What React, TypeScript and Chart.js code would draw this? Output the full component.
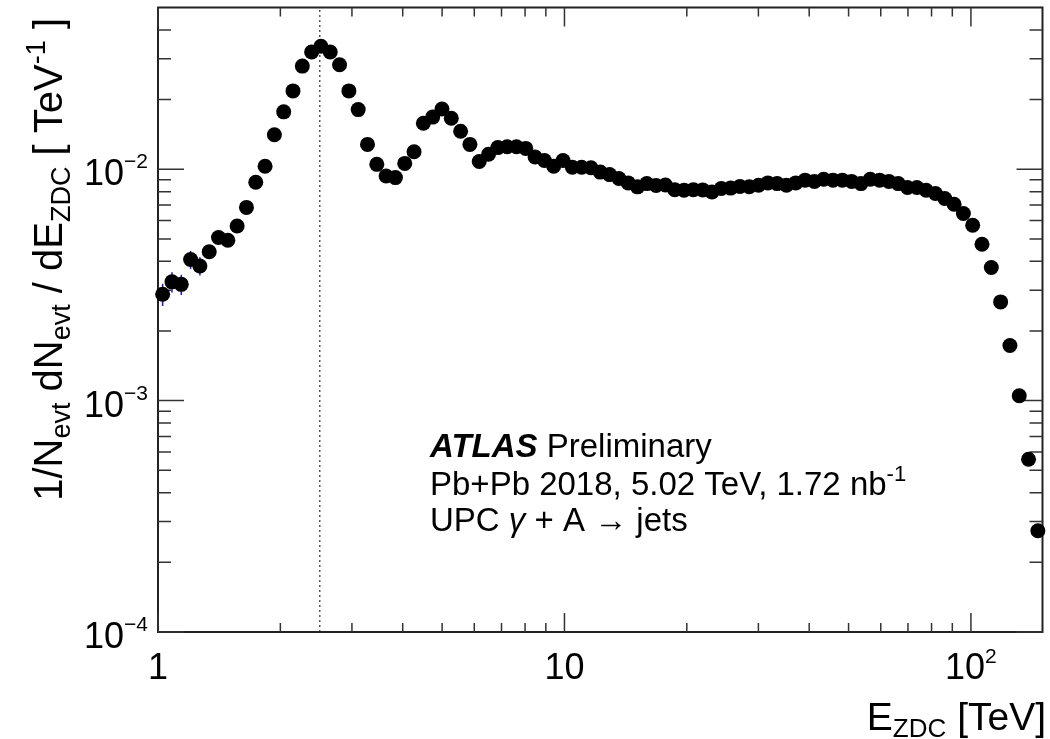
import React, { useEffect, useRef } from "react";
import { Chart, registerables } from "chart.js";

Chart.register(...registerables);

// Bin centres of E_ZDC [TeV]
const energyTeV = [
  1.0267, 1.0823, 1.141, 1.2028, 1.2679, 1.3366, 1.409, 1.4853, 1.5657, 1.6505,
  1.7399, 1.8341, 1.9335, 2.0382, 2.1486, 2.265, 2.3876, 2.5169, 2.6533, 2.797,
  2.9485, 3.1082, 3.2765, 3.454, 3.6411, 3.8383, 4.0461, 4.2653, 4.4963, 4.7398,
  4.9965, 5.2671, 5.5524, 5.8531, 6.1701, 6.5043, 6.8566, 7.2279, 7.6194, 8.0321,
  8.4671, 8.9257, 9.4091, 9.9187, 10.456, 11.022, 11.619, 12.248, 12.912, 13.611,
  14.348, 15.125, 15.944, 16.808, 17.718, 18.678, 19.69, 20.756, 21.88, 23.065,
  24.314, 25.631, 27.019, 28.482, 30.025, 31.651, 33.365, 35.172, 37.077, 39.085,
  41.202, 43.434, 45.786, 48.266, 50.88, 53.635, 56.54, 59.603, 62.831, 66.234,
  69.821, 73.602, 77.589, 81.791, 86.221, 90.89, 95.813, 101.0, 106.47, 112.24,
  118.32, 124.73, 131.48, 138.6, 146.11,
];

// 1/N_evt dN_evt/dE_ZDC [TeV^-1]
const dNdE = [
  2.88e-3, 3.26e-3, 3.18e-3, 4.07e-3, 3.82e-3, 4.4e-3, 5.07e-3, 4.93e-3, 5.68e-3, 6.84e-3,
  8.79e-3, 1.03e-2, 1.41e-2, 1.77e-2, 2.18e-2, 2.79e-2, 3.21e-2, 3.4e-2, 3.21e-2, 2.83e-2,
  2.18e-2, 1.81e-2, 1.28e-2, 1.05e-2, 9.35e-3, 9.2e-3, 1.06e-2, 1.19e-2, 1.58e-2, 1.68e-2,
  1.82e-2, 1.66e-2, 1.46e-2, 1.28e-2, 1.08e-2, 1.16e-2, 1.24e-2, 1.25e-2, 1.25e-2, 1.23e-2,
  1.13e-2, 1.09e-2, 1.03e-2, 1.09e-2, 1.02e-2, 1.02e-2, 1.015e-2, 9.72e-3, 9.48e-3, 9.12e-3,
  8.73e-3, 8.39e-3, 8.67e-3, 8.51e-3, 8.55e-3, 8.16e-3, 8.11e-3, 8.16e-3, 8.14e-3, 7.98e-3,
  8.26e-3, 8.29e-3, 8.43e-3, 8.4e-3, 8.53e-3, 8.73e-3, 8.67e-3, 8.53e-3, 8.73e-3, 8.97e-3,
  8.86e-3, 9.05e-3, 8.97e-3, 8.97e-3, 8.86e-3, 8.67e-3, 9.05e-3, 8.97e-3, 8.86e-3, 8.67e-3,
  8.34e-3, 8.34e-3, 8.11e-3, 7.85e-3, 7.47e-3, 7.06e-3, 6.44e-3, 5.73e-3, 4.74e-3, 3.76e-3,
  2.67e-3, 1.73e-3, 1.05e-3, 5.58e-4, 2.74e-4,
];

// relative statistical errors visible on the first bins
const relErr = [0.11, 0.1, 0.1, 0.09, 0.09];

const xRange = [1, 150];
const yRange = [1e-4, 0.05];
const markerLineX = 2.5;

const xMajorTicks = [1, 10, 100];
const xMinorTicks = [2, 3, 4, 5, 6, 7, 8, 9, 20, 30, 40, 50, 60, 70, 80, 90];
const xTickBase = ["1", "10", "10"];
const xTickExp = ["", "", "2"];

const yMajorTicks = [1e-4, 1e-3, 1e-2];
const yMinorTicks = [
  2e-4, 3e-4, 4e-4, 5e-4, 6e-4, 7e-4, 8e-4, 9e-4,
  2e-3, 3e-3, 4e-3, 5e-3, 6e-3, 7e-3, 8e-3, 9e-3,
  2e-2, 3e-2, 4e-2,
];
const yTickBase = ["10", "10", "10"];
const yTickExp = ["\u22124", "\u22123", "\u22122"];

const FONT = "'Liberation Sans', Arial, Helvetica, sans-serif";

type Seg = { t: string; size: number; style?: string; dy?: number };

function drawRich(
  ctx: CanvasRenderingContext2D,
  segs: Seg[],
  x: number,
  y: number,
  align: "left" | "right" | "center"
) {
  let w = 0;
  const widths: number[] = [];
  for (const s of segs) {
    ctx.font = `${s.style || ""} ${s.size}px ${FONT}`;
    const m = ctx.measureText(s.t).width;
    widths.push(m);
    w += m;
  }
  let cx = align === "left" ? x : align === "right" ? x - w : x - w / 2;
  ctx.textAlign = "left";
  ctx.textBaseline = "alphabetic";
  segs.forEach((s, i) => {
    ctx.font = `${s.style || ""} ${s.size}px ${FONT}`;
    ctx.fillText(s.t, cx, y + (s.dy || 0));
    cx += widths[i];
  });
}

export default function App() {
  const ref = useRef<HTMLCanvasElement>(null);

  useEffect(() => {
    const canvas = ref.current;
    if (!canvas) return;
    const points = energyTeV.map((x, i) => ({ x, y: dNdE[i] }));

    const rootStyle = {
      id: "rootStyle",
      beforeDatasetsDraw(chart: any) {
        const ctx: CanvasRenderingContext2D = chart.ctx;
        const xs = chart.scales.x;
        const ys = chart.scales.y;
        const { left, right, top, bottom } = chart.chartArea;
        ctx.save();

        // dotted vertical line
        const lx = xs.getPixelForValue(markerLineX);
        ctx.strokeStyle = "#555";
        ctx.lineWidth = 1.5;
        ctx.setLineDash([2, 3]);
        ctx.beginPath();
        ctx.moveTo(lx, bottom);
        ctx.lineTo(lx, top);
        ctx.stroke();
        ctx.setLineDash([]);

        // error bars
        ctx.strokeStyle = "#1a1aa8";
        ctx.lineWidth = 1.5;
        relErr.forEach((e, i) => {
          const px = xs.getPixelForValue(energyTeV[i]);
          const y1 = ys.getPixelForValue(dNdE[i] * (1 - e));
          const y2 = ys.getPixelForValue(dNdE[i] * (1 + e));
          ctx.beginPath();
          ctx.moveTo(px, y1);
          ctx.lineTo(px, y2);
          ctx.stroke();
        });

        // frame
        ctx.strokeStyle = "#222";
        ctx.lineWidth = 2;
        ctx.strokeRect(left, top, right - left, bottom - top);

        // ticks
        ctx.lineWidth = 1.5;
        ctx.strokeStyle = "#333";
        const xt = (v: number, len: number) => {
          const p = xs.getPixelForValue(v);
          ctx.beginPath();
          ctx.moveTo(p, bottom);
          ctx.lineTo(p, bottom - len);
          ctx.moveTo(p, top);
          ctx.lineTo(p, top + len);
          ctx.stroke();
        };
        xMajorTicks.forEach((v) => xt(v, 19));
        xMinorTicks.forEach((v) => xt(v, 9));
        const yt = (v: number, len: number) => {
          const p = ys.getPixelForValue(v);
          ctx.beginPath();
          ctx.moveTo(left, p);
          ctx.lineTo(left + len, p);
          ctx.moveTo(right, p);
          ctx.lineTo(right - len, p);
          ctx.stroke();
        };
        yMajorTicks.forEach((v) => yt(v, 26));
        yMinorTicks.forEach((v) => yt(v, 13));

        // tick labels
        ctx.fillStyle = "#000";
        xMajorTicks.forEach((v, i) => {
          const p = xs.getPixelForValue(v);
          const segs: Seg[] = [{ t: xTickBase[i], size: 36 }];
          if (xTickExp[i]) segs.push({ t: xTickExp[i], size: 21, dy: -16 });
          drawRich(ctx, segs, p, 679, "center");
        });
        yMajorTicks.forEach((v, i) => {
          const p = ys.getPixelForValue(v);
          drawRich(
            ctx,
            [
              { t: yTickBase[i], size: 36 },
              { t: yTickExp[i], size: 21, dy: -17 },
            ],
            148,
            p + 16,
            "right"
          );
        });

        // x title
        drawRich(
          ctx,
          [
            { t: "E", size: 39 },
            { t: "ZDC", size: 26, dy: 7 },
            { t: " [TeV]", size: 39 },
          ],
          1046,
          730,
          "right"
        );

        // y title (rotated)
        ctx.save();
        ctx.translate(62, 18);
        ctx.rotate(-Math.PI / 2);
        drawRich(
          ctx,
          [
            { t: "1/N", size: 40 },
            { t: "evt", size: 27, dy: 8 },
            { t: " dN", size: 40 },
            { t: "evt", size: 27, dy: 8 },
            { t: " / dE", size: 40 },
            { t: "ZDC", size: 27, dy: 8 },
            { t: " [ TeV", size: 40 },
            { t: "-1", size: 27, dy: -17 },
            { t: " ]", size: 40 },
          ],
          0,
          0,
          "right"
        );
        ctx.restore();

        // annotation text
        drawRich(
          ctx,
          [
            { t: "ATLAS", size: 33, style: "italic bold" },
            { t: " Preliminary", size: 33 },
          ],
          430,
          457,
          "left"
        );
        drawRich(
          ctx,
          [
            { t: "Pb+Pb 2018, 5.02 TeV, 1.72 nb", size: 33 },
            { t: "-1", size: 22, dy: -14 },
          ],
          430,
          495,
          "left"
        );
        drawRich(
          ctx,
          [
            { t: "UPC ", size: 33 },
            { t: "\u03b3", size: 33, style: "italic" },
            { t: " + A \u2192 jets", size: 33 },
          ],
          430,
          531,
          "left"
        );

        ctx.restore();
      },
    };

    const chart = new Chart(canvas, {
      type: "scatter",
      data: {
        datasets: [
          {
            data: points,
            pointRadius: 7.5,
            pointHoverRadius: 7.5,
            pointBackgroundColor: "#000",
            pointBorderColor: "#000",
            pointBorderWidth: 0,
            showLine: false,
            clip: false,
          } as any,
        ],
      },
      options: {
        responsive: false,
        devicePixelRatio: 1,
        animation: false,
        events: [],
        layout: { padding: { left: 0, right: 6, top: 7, bottom: 0 } },
        plugins: {
          legend: { display: false },
          tooltip: { enabled: false },
        },
        scales: {
          x: {
            type: "logarithmic",
            min: xRange[0],
            max: xRange[1],
            bounds: "data",
            ticks: { display: false },
            grid: { display: false },
            border: { display: false },
            afterFit: (s: any) => {
              s.height = 107;
            },
          },
          y: {
            type: "logarithmic",
            min: yRange[0],
            max: yRange[1],
            bounds: "data",
            ticks: { display: false },
            grid: { display: false },
            border: { display: false },
            afterFit: (s: any) => {
              s.width = 158;
            },
          },
        },
      } as any,
      plugins: [rootStyle],
    });

    return () => chart.destroy();
  }, []);

  return (
    <div
      style={{
        position: "fixed",
        left: 0,
        top: 0,
        width: 1050,
        height: 739,
        background: "#fff",
      }}
    >
      <canvas ref={ref} width={1050} height={739} style={{ display: "block" }} />
    </div>
  );
}
